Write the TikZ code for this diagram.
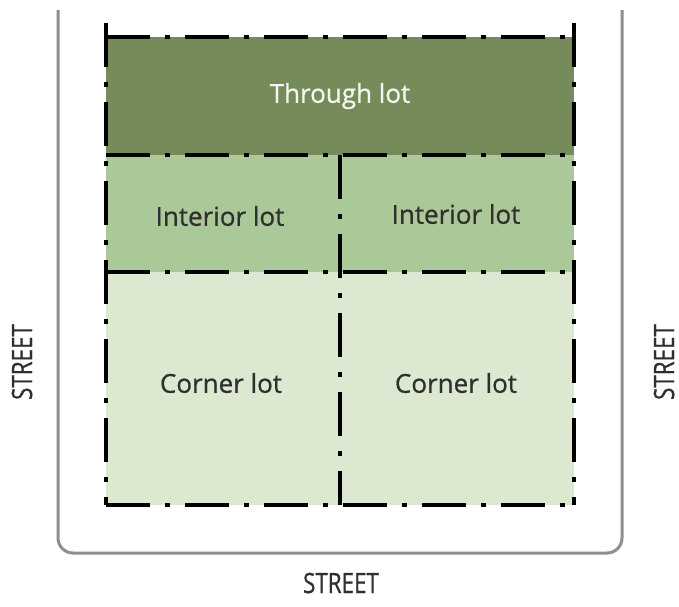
\documentclass[tikz,border=0pt]{standalone}
\usepackage{fontspec}
\setmainfont{Open Sans}
\newfontfamily\lotfont{Open Sans}[FakeBold=0.7]

\definecolor{throughgreen}{HTML}{758B5A}
\definecolor{interiorgreen}{HTML}{ABC899}
\definecolor{cornergreen}{HTML}{DCE9D0}
\definecolor{streetgray}{HTML}{8E8E8E}
\definecolor{labelgray}{HTML}{2F2F2F}

\tikzset{
  lotline/.style={line width=1.9pt, dash pattern=on 22pt off 7.5pt on 2.5pt off 7.5pt},
  streetline/.style={draw=streetgray, line width=1.5pt, rounded corners=7.5pt},
  lotlabel/.style={font=\lotfont\fontsize{13}{15}\selectfont, text=labelgray},
  streetlabel/.style={font=\lotfont\fontsize{14}{16}\selectfont, text=labelgray, xscale=0.8}
}

\begin{document}
\begin{tikzpicture}[x=0.5pt, y=-0.5pt]
  \useasboundingbox (0,0) rectangle (679,606);

  % corners of the lots
  \coordinate (tl) at (106,37);  \coordinate (tr) at (574,37);
  \coordinate (ml) at (106,155); \coordinate (mm) at (340,155); \coordinate (mr) at (574,155);
  \coordinate (il) at (106,272); \coordinate (im) at (340,272); \coordinate (ir) at (574,272);
  \coordinate (bl) at (106,505); \coordinate (bm) at (340,505); \coordinate (br) at (574,505);
  \coordinate (lt) at (106,10);  \coordinate (rt) at (574,10);

  % fills
  \fill[throughgreen] (tl) rectangle (mr);
  \fill[interiorgreen] (ml) rectangle (ir);
  \fill[cornergreen] (il) rectangle (br);

  % street edge
  \draw[streetline] (58,10) -- (58,553) -- (622,553) -- (622,10);

  % lot lines
  \draw[lotline, dash phase=33pt] (lt) -- (bl);
  \draw[lotline, dash phase=33pt] (rt) -- (br);
  \draw[lotline] (mm) -- (bm);
  \draw[lotline] (tl) -- (tr);
  \draw[lotline] (ml) -- (mr);
  \draw[lotline] (il) -- (ir);
  \draw[lotline] (bl) -- (br);

  % labels
  \node[lotlabel, text=white!92!throughgreen] (through) at (340,96) {Through lot};
  \node[lotlabel] (interiorL) at (220,216) {Interior lot};
  \node[lotlabel] (interiorR) at (456,214) {Interior lot};
  \node[lotlabel] (cornerL) at (221,383) {Corner lot};
  \node[lotlabel] (cornerR) at (456,383) {Corner lot};

  \node[rotate=90, streetlabel] (streetW) at (22,362) {STREET};
  \node[rotate=90, streetlabel] (streetE) at (664,362) {STREET};
  \node[streetlabel] (streetS) at (341,583) {STREET};
\end{tikzpicture}
\end{document}
